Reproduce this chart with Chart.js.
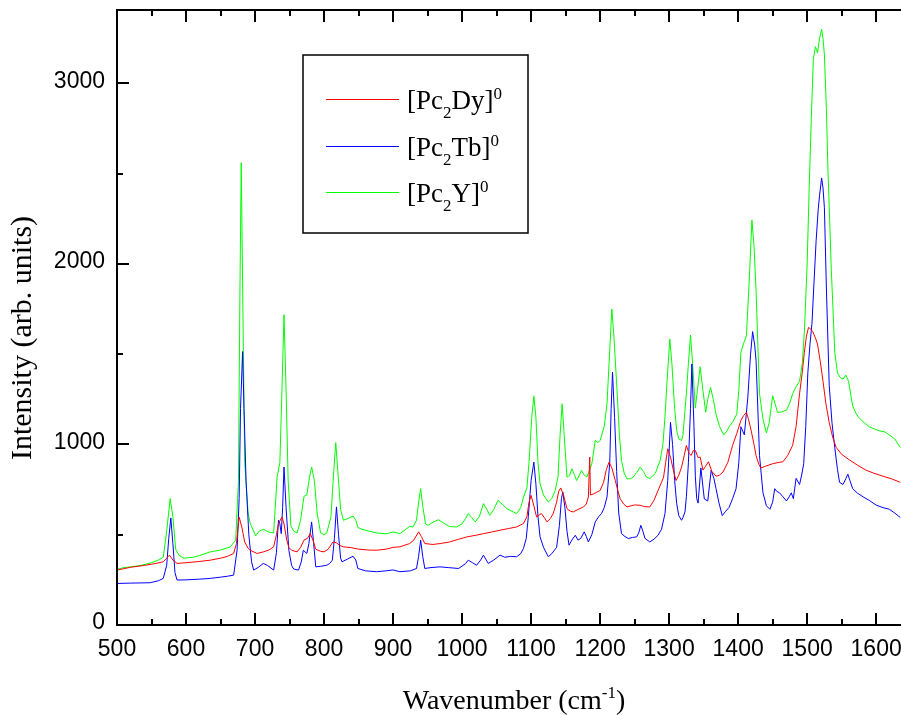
<!DOCTYPE html>
<html>
<head>
<meta charset="utf-8">
<script src="https://cdn.jsdelivr.net/npm/chart.js@4.4.1/dist/chart.umd.min.js"></script>
<style>
  html, body { margin: 0; padding: 0; background: #ffffff; }
  #wrap { width: 901px; height: 715px; position: relative; }
</style>
</head>
<body>
<div id="wrap"><canvas id="raman"></canvas></div>
<script>
// Axis ticks
const wnTicks = [500, 600, 700, 800, 900, 1000, 1100, 1200, 1300, 1400, 1500, 1600];
const wnMinorTicks = [550, 650, 750, 850, 950, 1050, 1150, 1250, 1350, 1450, 1550];
const intTicks = [0, 1000, 2000, 3000];
const intMinorTicks = [500, 1500, 2500];

// Legend entries (metal centre of each double-decker complex)
const metals = ['Dy', 'Tb', 'Y'];
const seriesColors = ['#ff0000', '#0000ff', '#00ff00'];

// [Pc2Dy]0 spectrum
const dyWave = [500,520,540,555,567,572,576,581,587,600,620,635,650,660,669,673,677,681,685,690,693,703,712,720,727,731,734,739,742,746,749,753,761,766,771,776,780,784,788,795,800,806,813,818,823,828,840,850,865,876,890,900,910,924,930,937,941,946,958,970,982,995,1007,1020,1031,1043,1055,1067,1079,1089,1094,1097,1100,1104,1108,1112,1115,1120,1123,1128,1132,1137,1140,1143,1147,1152,1157,1161,1168,1176,1180,1183,1185,1186,1190,1195,1200,1205,1209,1213,1217,1222,1226,1229,1234,1239,1245,1250,1258,1265,1272,1278,1284,1289,1292,1295,1298,1302,1306,1310,1314,1318,1322,1325,1329,1332,1335,1338,1342,1345,1349,1353,1357,1362,1368,1373,1378,1385,1392,1398,1404,1408,1412,1415,1419,1423,1426,1430,1433,1440,1450,1458,1465,1472,1479,1484,1489,1493,1496,1499,1502,1505,1508,1512,1515,1519,1523,1527,1532,1537,1542,1550,1561,1573,1585,1597,1610,1622,1635];
const dyInt = [304,320,330,340,350,370,387,360,341,345,352,359,370,380,396,450,598,540,460,425,414,396,405,415,433,500,562,598,560,470,430,414,405,430,470,480,506,470,420,408,405,420,460,455,440,433,428,420,415,414,420,430,433,451,470,516,490,451,446,452,460,475,488,497,506,515,525,534,543,562,600,680,718,660,598,610,617,590,571,590,617,680,740,759,720,644,630,626,640,654,670,709,930,720,725,735,745,790,860,902,870,800,740,700,670,654,660,665,663,655,654,690,745,790,819,900,976,930,860,800,830,874,940,994,950,939,966,966,927,930,858,880,904,850,824,830,847,900,995,1060,1133,1160,1178,1140,1075,1000,938,890,870,880,893,900,904,940,995,1100,1281,1400,1510,1600,1648,1640,1625,1590,1556,1460,1350,1230,1121,1040,984,945,915,885,858,840,824,810,790];

// [Pc2Tb]0 spectrum
const tbWave = [500,520,548,560,567,572,575,578,581,584,587,600,620,635,650,660,669,674,677,679,682,684,687,691,695,698,705,712,718,727,731,734,736,738,740,742,745,749,753,756,763,767,770,775,778,782,785,788,795,804,808,812,815,818,821,824,826,834,842,846,849,860,876,890,900,910,925,934,937,940,943,946,955,968,980,995,1005,1009,1015,1021,1027,1031,1035,1038,1046,1055,1062,1070,1079,1085,1089,1093,1096,1100,1104,1107,1110,1113,1118,1125,1130,1137,1141,1144,1146,1149,1152,1155,1159,1164,1168,1172,1177,1180,1183,1188,1193,1198,1202,1206,1210,1214,1216,1218,1221,1224,1227,1231,1236,1241,1247,1253,1256,1259,1262,1265,1272,1278,1284,1289,1294,1298,1302,1305,1308,1311,1314,1318,1320,1323,1325,1328,1331,1333,1336,1338,1340,1342,1346,1351,1356,1361,1365,1368,1372,1377,1382,1387,1392,1397,1401,1404,1409,1414,1418,1421,1424,1426,1429,1431,1436,1441,1446,1450,1453,1456,1460,1465,1470,1474,1477,1480,1484,1489,1492,1495,1498,1501,1504,1507,1510,1513,1516,1518,1521,1523,1525,1528,1532,1536,1540,1544,1547,1552,1556,1559,1562,1566,1573,1581,1590,1600,1610,1619,1627,1635];
const tbInt = [230,232,234,245,258,330,480,593,450,290,249,250,254,258,265,270,276,414,700,1200,1514,1200,800,500,350,304,320,341,330,304,400,580,560,506,650,875,650,414,330,310,304,350,414,396,450,571,450,322,325,331,340,359,480,654,500,370,350,365,381,360,313,300,295,300,305,295,300,313,380,470,380,313,318,322,318,313,340,359,345,331,360,387,360,341,360,387,375,380,378,395,424,480,600,800,902,780,600,488,430,378,395,430,550,700,737,650,520,442,470,497,470,480,516,490,460,500,571,600,617,650,709,900,1200,1400,1150,850,620,506,490,479,485,488,510,552,520,480,460,475,497,530,617,800,1123,1000,800,672,606,580,595,626,710,900,1200,1446,1100,824,700,675,870,698,687,858,810,755,680,606,630,652,700,755,900,1098,1053,1258,1500,1625,1550,1464,1150,938,732,660,641,680,755,740,732,710,687,710,732,700,812,778,830,893,1100,1396,1550,1671,1900,2128,2300,2380,2476,2420,2311,1850,1327,1120,984,860,790,778,810,835,800,755,730,710,690,664,650,641,620,595];

// [Pc2Y]0 spectrum
const yWave = [500,510,520,535,550,560,567,572,577,581,585,590,597,610,620,635,650,664,672,676,678,680,682,685,690,693,701,706,712,720,727,732,736,739,742,745,748,752,756,761,766,771,775,779,782,786,790,795,800,804,810,814,817,820,824,828,835,842,846,849,855,865,876,890,900,910,924,929,934,937,940,943,947,951,958,966,975,982,992,1000,1005,1009,1014,1019,1025,1031,1036,1040,1046,1052,1058,1065,1072,1079,1085,1089,1094,1097,1101,1104,1107,1110,1113,1118,1125,1130,1135,1139,1142,1145,1148,1152,1156,1159,1163,1166,1170,1173,1177,1181,1185,1188,1193,1197,1200,1206,1210,1213,1217,1220,1224,1228,1231,1235,1239,1244,1248,1253,1258,1263,1267,1272,1280,1287,1291,1294,1297,1301,1304,1308,1311,1314,1318,1320,1325,1328,1331,1334,1338,1341,1345,1349,1353,1356,1360,1364,1368,1373,1379,1383,1387,1393,1398,1401,1404,1408,1412,1416,1420,1423,1426,1429,1431,1436,1441,1445,1450,1454,1457,1463,1470,1475,1479,1484,1489,1493,1496,1500,1503,1506,1509,1512,1515,1518,1521,1523,1525,1528,1530,1533,1535,1538,1540,1544,1548,1552,1556,1560,1563,1566,1571,1576,1583,1590,1598,1605,1612,1619,1627,1635];
const yInt = [308,318,322,330,345,360,375,520,700,600,420,385,370,375,385,405,415,432,470,800,1800,2560,1900,900,620,563,494,520,530,515,510,820,900,1300,1718,1300,800,548,520,510,580,713,720,820,875,800,620,510,500,510,600,850,1010,850,640,580,590,603,580,540,530,520,510,505,515,506,546,543,580,680,755,660,560,552,570,583,560,545,543,560,590,617,595,571,600,672,640,607,640,690,670,644,630,617,650,709,760,900,1150,1267,1150,900,782,720,681,700,745,820,1050,1225,1050,819,830,865,830,800,830,856,830,820,860,892,1022,1010,1022,1100,1225,1450,1750,1600,1335,1050,911,840,810,810,819,845,874,850,820,810,840,911,1000,1151,1350,1583,1450,1200,1077,1030,1022,1050,1281,1450,1606,1450,1201,1300,1430,1300,1178,1250,1316,1250,1167,1100,1053,1070,1098,1130,1167,1300,1510,1560,1602,1900,2242,2100,1853,1500,1281,1140,1064,1120,1270,1220,1178,1180,1190,1230,1281,1320,1350,1450,1625,2000,2425,2800,3135,3203,3169,3250,3299,3250,3158,2850,2540,2200,1968,1700,1510,1396,1370,1362,1384,1350,1280,1213,1170,1144,1120,1098,1085,1075,1070,1053,1030,984];

const toPoints = (xs, ys) => xs.map((v, i) => ({ x: v, y: ys[i] }));

const SERIF = '"Liberation Serif", "Times New Roman", serif';
const SANS = '"Liberation Sans", Arial, sans-serif';

// Draws a run of text pieces with sub/superscripts; returns the end x
function drawRich(ctx, pieces, x, y, size) {
  const small = Math.round(size * 0.62);
  let cx = x;
  for (const p of pieces) {
    let dy = 0, fs = size;
    if (p.pos === 'sub') { fs = small; dy = size * 0.33; }
    if (p.pos === 'sup') { fs = small; dy = -size * 0.38; }
    ctx.font = fs + 'px ' + SERIF;
    ctx.fillText(p.t, cx, y + dy);
    cx += ctx.measureText(p.t).width;
  }
  return cx;
}
function richWidth(ctx, pieces, size) {
  const small = Math.round(size * 0.62);
  let w = 0;
  for (const p of pieces) {
    ctx.font = (p.pos ? small : size) + 'px ' + SERIF;
    w += ctx.measureText(p.t).width;
  }
  return w;
}

// Frame, inward ticks, tick labels, axis titles and the boxed legend
const framePlugin = {
  id: 'frame',
  afterDatasetsDraw(chart) {
    const { ctx, chartArea: a, scales: { x, y } } = chart;
    ctx.save();
    ctx.strokeStyle = '#000';
    ctx.fillStyle = '#000';
    ctx.lineWidth = 2;
    ctx.beginPath();
    ctx.moveTo(a.right + 2, a.top);
    ctx.lineTo(a.left, a.top);
    ctx.lineTo(a.left, a.bottom);
    ctx.lineTo(a.right + 2, a.bottom);
    ctx.stroke();

    const major = 12, minor = 6;
    ctx.beginPath();
    for (const v of wnTicks) {
      const px = Math.round(x.getPixelForValue(v));
      ctx.moveTo(px, a.bottom); ctx.lineTo(px, a.bottom - major);
      ctx.moveTo(px, a.top); ctx.lineTo(px, a.top + major);
    }
    for (const v of wnMinorTicks) {
      const px = Math.round(x.getPixelForValue(v));
      ctx.moveTo(px, a.bottom); ctx.lineTo(px, a.bottom - minor);
      ctx.moveTo(px, a.top); ctx.lineTo(px, a.top + minor);
    }
    for (const v of intTicks) {
      const py = Math.round(y.getPixelForValue(v));
      ctx.moveTo(a.left, py); ctx.lineTo(a.left + major, py);
    }
    for (const v of intMinorTicks) {
      const py = Math.round(y.getPixelForValue(v));
      ctx.moveTo(a.left, py); ctx.lineTo(a.left + minor, py);
    }
    ctx.stroke();

    // tick labels
    ctx.font = '23px ' + SANS;
    ctx.textBaseline = 'middle';
    ctx.textAlign = 'center';
    for (const v of wnTicks) {
      ctx.fillText(String(v), x.getPixelForValue(v), a.bottom + 25);
    }
    ctx.textAlign = 'right';
    for (const v of intTicks) {
      ctx.fillText(String(v), a.left - 12, y.getPixelForValue(v) - 2);
    }

    // axis titles
    ctx.textBaseline = 'alphabetic';
    ctx.textAlign = 'left';
    const xTitle = [{ t: 'Wavenumber (cm' }, { t: '-1', pos: 'sup' }, { t: ')' }];
    const xw = richWidth(ctx, xTitle, 28);
    drawRich(ctx, xTitle, 514 - xw / 2, 709, 28);

    ctx.save();
    ctx.translate(31, 338);
    ctx.rotate(-Math.PI / 2);
    ctx.font = '30px ' + SERIF;
    ctx.textAlign = 'center';
    ctx.fillText('Intensity (arb. units)', 0, 0);
    ctx.restore();

    // legend box
    const lx = 303, ly = 55, lw = 225, lh = 178;
    ctx.lineWidth = 1.5;
    ctx.strokeRect(lx, ly, lw, lh);
    const rowY = [99, 146, 192];
    metals.forEach((m, i) => {
      ctx.strokeStyle = seriesColors[i];
      ctx.lineWidth = 1;
      ctx.beginPath();
      ctx.moveTo(326, rowY[i] + 0.5);
      ctx.lineTo(399, rowY[i] + 0.5);
      ctx.stroke();
      ctx.fillStyle = '#000';
      drawRich(ctx, [{ t: '[Pc' }, { t: '2', pos: 'sub' }, { t: m + ']' }, { t: '0', pos: 'sup' }],
        407, rowY[i] + 10, 27);
    });
    ctx.restore();
  }
};

const ds = (label, xs, ys, color) => ({
  label, data: toPoints(xs, ys), borderColor: color, backgroundColor: color,
  borderWidth: 1, pointRadius: 0, tension: 0, fill: false
});

new Chart(document.getElementById('raman'), {
  type: 'line',
  data: {
    datasets: [
      ds('[Pc2Dy]0', dyWave, dyInt, seriesColors[0]),
      ds('[Pc2Tb]0', tbWave, tbInt, seriesColors[1]),
      ds('[Pc2Y]0', yWave, yInt, seriesColors[2])
    ]
  },
  options: {
    responsive: true,
    maintainAspectRatio: false,
    animation: false,
    events: [],
    layout: { padding: { left: 117, top: 10, right: 0, bottom: 90 } },
    plugins: { legend: { display: false }, tooltip: { enabled: false } },
    scales: {
      x: { type: 'linear', min: 500, max: 1636, display: false },
      y: { type: 'linear', min: 0, max: 3406, display: false }
    }
  },
  plugins: [framePlugin]
});
</script>
</body>
</html>
